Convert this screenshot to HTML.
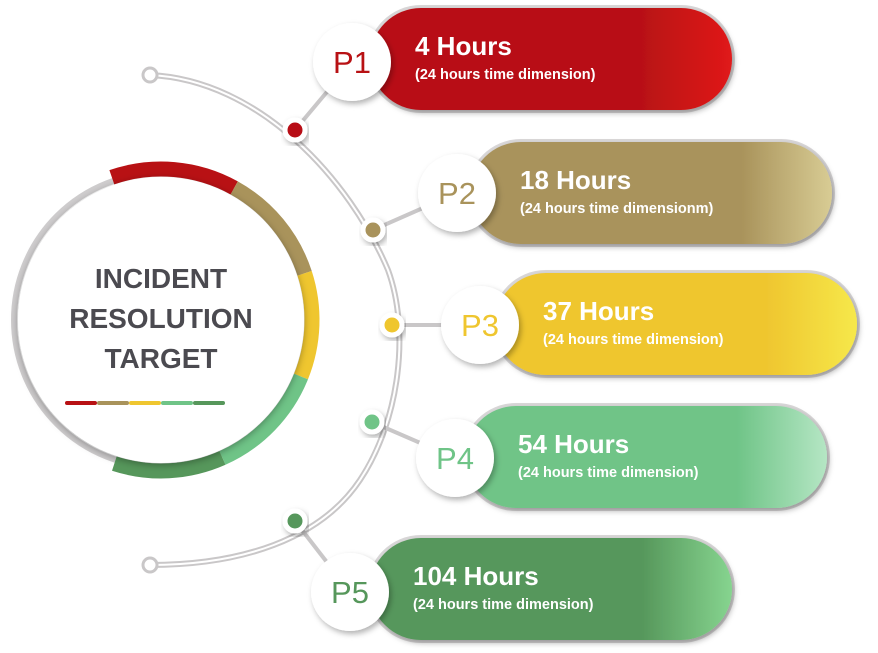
<!DOCTYPE html>
<html><head><meta charset="utf-8"><style>
html,body{margin:0;padding:0;background:#fff;width:878px;height:653px;overflow:hidden}
svg{display:block;font-family:"Liberation Sans",sans-serif}
</style></head><body>
<svg id="c" width="878" height="653" viewBox="0 0 878 653">
<defs>
<filter id="sh" x="-20%" y="-30%" width="140%" height="160%"><feDropShadow dx="2" dy="3" stdDeviation="3" flood-color="#000" flood-opacity="0.3"/></filter>
<filter id="sh2" x="-20%" y="-20%" width="140%" height="140%"><feDropShadow dx="0" dy="2" stdDeviation="4" flood-color="#000" flood-opacity="0.35"/></filter>
</defs>
<g id="arcLayer"></g>
<g id="donut"></g>
<g id="items"></g>
</svg>
<script>
const priorities = ["P1","P2","P3","P4","P5"];
const hours = [4, 18, 37, 54, 104];
const subtitles = ["(24 hours time dimension)","(24 hours time dimensionm)","(24 hours time dimension)","(24 hours time dimension)","(24 hours time dimension)"];
const colors = ["#b81114","#a9935b","#efc62f","#6fc487","#56975b"];
const lightEnds = ["#e01a1a","#d8cc94","#f6e84a","#b5e6c4","#86d48f"];
// donut segment angles (degrees clockwise from top)
const segStart = [-19, 29, 72, 112, 156];
const segEnd = [29, 72, 112, 156, 198];

const NS="http://www.w3.org/2000/svg";
function mk(tag,attrs,parent){const e=document.createElementNS(NS,tag);for(const k in attrs)e.setAttribute(k,attrs[k]);parent.appendChild(e);return e;}
const svg=document.getElementById('c');
const defs=svg.querySelector('defs');
const arcL=document.getElementById('arcLayer'), donut=document.getElementById('donut'), items=document.getElementById('items');

function pt(cx,cy,r,deg){const a=(deg-90)*Math.PI/180;return [cx+r*Math.cos(a),cy+r*Math.sin(a)];}
function arcPath(cx,cy,r,a0,a1){const p0=pt(cx,cy,r,a0),p1=pt(cx,cy,r,a1);const large=(a1-a0)>180?1:0;return `M${p0[0]},${p0[1]} A${r},${r} 0 ${large} 1 ${p1[0]},${p1[1]}`;}
const AD="M150,75 C260,80 350,180 388,270 C410,330 400,420 360,480 C320,540 240,565 150,565";
const a1=mk('path',{d:AD,fill:"none",stroke:"#c9c7c8","stroke-width":6},arcL);


mk('path',{d:AD,fill:"none",stroke:"#fff","stroke-width":2},arcL);
[[150,75],[150,565]].forEach((p,i)=>{const e=mk('circle',{cx:p[0],cy:p[1],r:7,fill:"#fff",stroke:"#c9c7c8","stroke-width":3},arcL);

});

// donut
const DCX=161, DCY=320;
const gring=mk('circle',{cx:DCX,cy:DCY,r:147,fill:"none",stroke:"#cfcdce","stroke-width":6},donut);


priorities.forEach((p,i)=>{const s=mk('path',{d:arcPath(DCX,DCY,151,segStart[i],segEnd[i]),fill:"none",stroke:colors[i],"stroke-width":15},donut);

});
const inner=mk('circle',{cx:DCX,cy:DCY,r:143,fill:"#fff",filter:"url(#sh2)"},donut);


["INCIDENT","RESOLUTION","TARGET"].forEach((t,i)=>{const e=mk('text',{x:DCX,y:288+i*40,"text-anchor":"middle","font-size":28,"font-weight":"bold",fill:"#4b4a50"},donut);e.textContent=t;

});
priorities.forEach((p,i)=>{const b=mk('rect',{x:65+i*32,y:401,width:32,height:4,fill:colors[i],rx:2},donut);

});

const layout=[{px:370,py:8,dot:[295,130],cx:352,cy:62},{px:470,py:142,dot:[373,230],cx:457,cy:193},{px:495,py:273,dot:[392,325],cx:480,cy:325},{px:465,py:406,dot:[372,422],cx:455,cy:458},{px:370,py:538,dot:[295,521],cx:350,cy:592}];
const PW=362, PH=102;
priorities.forEach((p,i)=>{
  const L=layout[i];
  const g=mk('g',{},items);
  
  
  const gid='grad'+i;
  const lg=mk('linearGradient',{id:gid,x1:0,y1:0,x2:1,y2:0},defs);
  mk('stop',{offset:"0",'stop-color':colors[i]},lg);mk('stop',{offset:"0.75",'stop-color':colors[i]},lg);mk('stop',{offset:"1",'stop-color':lightEnds[i]},lg);
  mk('line',{x1:L.dot[0],y1:L.dot[1],x2:L.cx,y2:L.cy,stroke:"#c9c7c8","stroke-width":4},g);
  const dot=mk('circle',{cx:L.dot[0],cy:L.dot[1],r:10,fill:colors[i],stroke:"#fff","stroke-width":5,filter:"url(#sh)"},g);
  
  
  mk('rect',{x:L.px-3,y:L.py-3,width:PW+6,height:PH+6,rx:(PH+6)/2,fill:"#d9d7d8"},g);
  const pill=mk('rect',{x:L.px,y:L.py,width:PW,height:PH,rx:PH/2,fill:`url(#${gid})`,filter:"url(#sh)"},g);
  
  
  const c=mk('circle',{cx:L.cx,cy:L.cy,r:39,fill:"#fff",filter:"url(#sh)"},g);
  
  
  const lt=mk('text',{x:L.cx,y:L.cy+11,"text-anchor":"middle","font-size":31,fill:colors[i]},g);lt.textContent=p;
  
  
  const tx=L.cx+63;
  const h=mk('text',{x:tx,y:L.py+47,"font-size":26,"font-weight":"bold",fill:"#fff"},g);h.textContent=hours[i]+" Hours";
  
  
  const s=mk('text',{x:tx,y:L.py+71,"font-size":14.5,"font-weight":"600",fill:"#fff"},g);s.textContent=subtitles[i];
  
  
});
</script>
</body></html>
